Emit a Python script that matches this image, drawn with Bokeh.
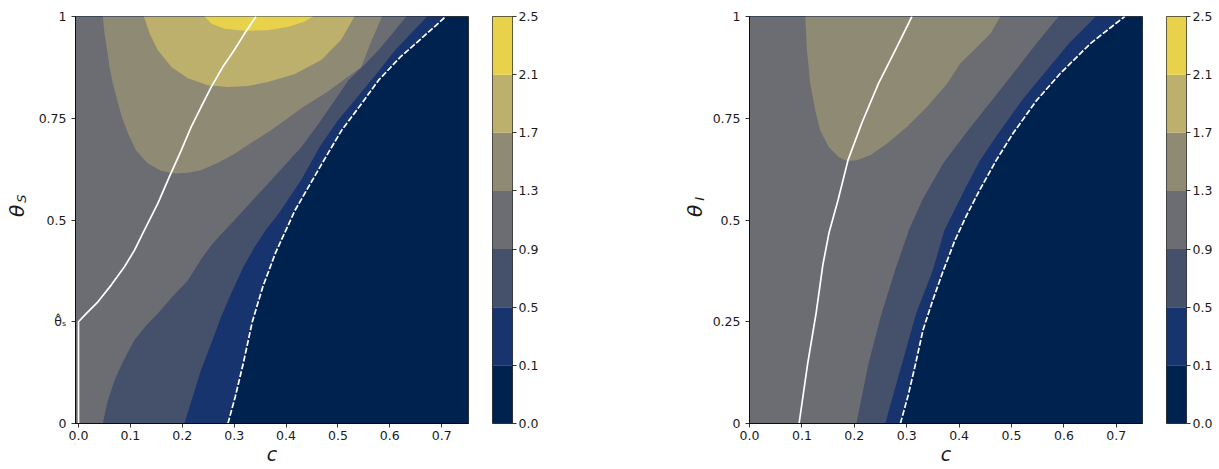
import math
from bokeh.plotting import figure
from bokeh.layouts import row
from bokeh.models import FixedTicker, Range1d, PrintfTickFormatter
from bokeh.core.properties import value
from bokeh.embed import file_html
from bokeh.resources import INLINE

# ---------------- data ----------------
levels = [0.0, 0.1, 0.5, 0.9, 1.3, 1.7, 2.1, 2.5]
level_labels = ["0.0", "0.1", "0.5", "0.9", "1.3", "1.7", "2.1", "2.5"]
band_colors = ["#00224e", "#17346f", "#45506b", "#6c6d72", "#8f8a73", "#bdaf6c", "#e8d24b"]

x_ticks = [0.0, 0.1, 0.2, 0.3, 0.4, 0.5, 0.6, 0.7]
y_ticks = [0, 0.25, 0.5, 0.75, 1]
y_labels_S = ["0", "\u03b8\u0302\u209b", "0.5", "0.75", "1"]
y_labels_I = ["0", "0.25", "0.5", "0.75", "1"]

# left panel (theta_S): contour boundaries, c values / theta values
S_c_01 = [0.288, 0.302, 0.318, 0.335, 0.355, 0.38, 0.417, 0.469, 0.507, 0.548, 0.578, 0.62, 0.66, 0.708]
S_t_01 = [0.0, 0.065, 0.15, 0.25, 0.335, 0.42, 0.523, 0.638, 0.72, 0.79, 0.843, 0.90, 0.945, 1.0]
S_c_05 = [0.204, 0.22, 0.236, 0.256, 0.275, 0.294, 0.318, 0.34, 0.362, 0.386, 0.43, 0.465, 0.5, 0.536, 0.575, 0.61, 0.672]
S_t_05 = [0.0, 0.065, 0.131, 0.197, 0.262, 0.319, 0.385, 0.435, 0.477, 0.516, 0.60, 0.68, 0.745, 0.80, 0.86, 0.917, 1.0]
S_c_09 = [0.047, 0.055, 0.0695, 0.088, 0.108, 0.13, 0.153, 0.18, 0.211, 0.237, 0.256, 0.275, 0.301, 0.333,
          0.366, 0.398, 0.43, 0.462, 0.494, 0.52, 0.55, 0.578, 0.605, 0.632]
S_t_09 = [0.0, 0.05, 0.106, 0.158, 0.205, 0.24, 0.27, 0.31, 0.352, 0.405, 0.438, 0.465, 0.50, 0.545,
          0.59, 0.635, 0.68, 0.735, 0.794, 0.843, 0.88, 0.917, 0.958, 1.0]
S_c_13 = [0.047, 0.050, 0.0553, 0.0597, 0.0663, 0.0746, 0.0836, 0.0952, 0.111, 0.1337, 0.159, 0.185, 0.211,
          0.236, 0.268, 0.301, 0.333, 0.366, 0.398, 0.43, 0.48, 0.545, 0.564, 0.585]
S_t_13 = [1.0, 0.958, 0.917, 0.876, 0.835, 0.794, 0.753, 0.713, 0.671, 0.639, 0.621, 0.614, 0.616,
          0.622, 0.64, 0.663, 0.69, 0.716, 0.745, 0.775, 0.815, 0.876, 0.938, 1.0]
S_c_17 = [0.126, 0.137, 0.153, 0.179, 0.211, 0.249, 0.288, 0.326, 0.365, 0.416, 0.468, 0.506, 0.532]
S_t_17 = [1.0, 0.958, 0.917, 0.876, 0.848, 0.831, 0.827, 0.829, 0.839, 0.858, 0.893, 0.942, 1.0]
S_c_21 = [0.243, 0.256, 0.281, 0.32, 0.365, 0.403, 0.435, 0.452]
S_t_21 = [1.0, 0.983, 0.970, 0.965, 0.966, 0.974, 0.987, 1.0]
S_white_c = [0.0, 0.0, 0.0148, 0.0374, 0.063, 0.0886, 0.108, 0.127, 0.153, 0.175, 0.198, 0.217, 0.236,
             0.256, 0.278, 0.30, 0.32, 0.342]
S_white_t = [0.0, 0.25, 0.27, 0.299, 0.34, 0.385, 0.426, 0.475, 0.541, 0.606, 0.671, 0.728, 0.777,
             0.827, 0.876, 0.917, 0.958, 1.0]

# right panel (theta_I)
I_c_01 = [0.288, 0.303, 0.317, 0.331, 0.349, 0.368, 0.392, 0.413, 0.439, 0.471, 0.503, 0.548, 0.593, 0.651, 0.716]
I_t_01 = [0.0, 0.07, 0.147, 0.229, 0.30, 0.369, 0.45, 0.508, 0.573, 0.647, 0.713, 0.794, 0.86, 0.934, 1.0]
I_c_05 = [0.259, 0.291, 0.318, 0.35, 0.372, 0.41, 0.44, 0.475, 0.52, 0.562, 0.61, 0.661]
I_t_05 = [0.0, 0.147, 0.27, 0.377, 0.475, 0.573, 0.647, 0.713, 0.794, 0.86, 0.934, 1.0]
I_c_09 = [0.204, 0.227, 0.252, 0.278, 0.304, 0.33, 0.37, 0.413, 0.46, 0.503, 0.548, 0.59]
I_t_09 = [0.0, 0.147, 0.27, 0.377, 0.475, 0.55, 0.64, 0.713, 0.79, 0.86, 0.934, 1.0]
I_c_13 = [0.1064, 0.1096, 0.116, 0.1255, 0.135, 0.151, 0.170, 0.186, 0.205, 0.2306, 0.2625, 0.3007,
          0.339, 0.377, 0.4025, 0.428, 0.46, 0.479]
I_t_13 = [1.0, 0.917, 0.835, 0.769, 0.72, 0.68, 0.655, 0.645, 0.647, 0.659, 0.688, 0.729,
          0.778, 0.835, 0.885, 0.917, 0.958, 1.0]
I_white_c = [0.0946, 0.111, 0.127, 0.14, 0.152, 0.169, 0.188, 0.214, 0.246, 0.278, 0.31]
I_white_t = [0.0, 0.147, 0.27, 0.39, 0.47, 0.549, 0.647, 0.737, 0.835, 0.917, 1.0]

# ---------------- styling ----------------
FONT = "DejaVu Sans"
TICK_FS = "12.5px"
TXT = "#1a1a1a"
FW, FH = 393, 407
TOP, BOTTOM = 16, 46
H = TOP + FH + BOTTOM


def style_axis(ax):
    ax.axis_line_color = "black"
    ax.axis_line_width = 0.8
    ax.major_tick_line_color = "black"
    ax.major_tick_line_width = 0.8
    ax.major_tick_out = 4
    ax.major_tick_in = 0
    ax.minor_tick_line_color = None
    ax.major_label_text_font = FONT
    ax.major_label_text_font_size = TICK_FS
    ax.major_label_text_color = TXT


def main_panel(x0, x1, bounds, white, dashed, ylabels, min_left):
    p = figure(frame_width=FW, frame_height=FH, x_range=Range1d(x0, x1), y_range=Range1d(0, 1),
               output_backend="svg", toolbar_location=None,
               min_border_left=min_left, min_border_right=10, min_border_top=TOP, min_border_bottom=BOTTOM)
    p.xgrid.visible = False
    p.ygrid.visible = False
    p.outline_line_color = "black"
    p.outline_line_width = 0.8
    # base band (lowest level) over whole domain
    p.quad(left=[x0], right=[x1], bottom=[levels[0]], top=[1.0], fill_color=band_colors[0], line_color=None)
    for k, (cs, ts) in enumerate(bounds):
        if ts[0] == 0.0:
            xs = [x0] + cs + [x0]
            ys = [0.0] + ts + [1.0]
        else:
            xs = list(cs)
            ys = list(ts)
        p.patch(xs, ys, fill_color=band_colors[k + 1], line_color=None)
    p.line(white[0], white[1], line_color="white", line_width=1.7)
    p.line(dashed[0], dashed[1], line_color="white", line_width=1.7, line_dash="6 2")

    style_axis(p.xaxis[0])
    style_axis(p.yaxis[0])
    p.xaxis.ticker = FixedTicker(ticks=x_ticks)
    p.xaxis.formatter = PrintfTickFormatter(format="%.1f")
    p.xaxis.major_label_standoff = 3
    p.xaxis.axis_label = "c"
    p.xaxis.axis_label_text_font = FONT
    p.xaxis.axis_label_text_font_style = "italic"
    p.xaxis.axis_label_text_font_size = "19px"
    p.xaxis.axis_label_text_color = TXT
    p.xaxis.axis_label_standoff = 0
    p.yaxis.ticker = FixedTicker(ticks=y_ticks)
    p.yaxis.major_label_overrides = {t: l for t, l in zip(y_ticks, ylabels)}
    p.yaxis.major_label_standoff = 5
    return p


def label_fig(width, x_main, x_sub, sub):
    f = figure(width=width, height=H, x_range=Range1d(0, width), y_range=Range1d(0, H),
               output_backend="svg", toolbar_location=None, x_axis_location=None, y_axis_location=None,
               min_border=0, outline_line_color=None)
    f.xgrid.visible = False
    f.ygrid.visible = False
    f.text(x=[x_main], y=[H - 224], text=["\u03b8"], angle=math.pi / 2, text_font=value(FONT),
           text_font_style="italic", text_font_size="20px", text_align="center",
           text_baseline="middle", text_color=TXT)
    f.text(x=[x_sub], y=[H - 210], text=[sub], angle=math.pi / 2, text_font=value(FONT),
           text_font_style="italic", text_font_size="13px", text_align="center",
           text_baseline="middle", text_color=TXT)
    return f


def colorbar(min_right):
    n = len(band_colors)
    cb = figure(frame_width=20, frame_height=FH, x_range=Range1d(0, 1), y_range=Range1d(0, n),
                output_backend="svg", toolbar_location=None, x_axis_location=None, y_axis_location="right",
                min_border_left=14, min_border_right=min_right, min_border_top=TOP, min_border_bottom=BOTTOM)
    cb.xgrid.visible = False
    cb.ygrid.visible = False
    cb.outline_line_color = "black"
    cb.outline_line_width = 0.8
    cb.quad(left=0, right=1, bottom=list(range(n)), top=list(range(1, n + 1)),
            fill_color=band_colors, line_color=None)
    ax = cb.yaxis[0]
    style_axis(ax)
    ax.axis_line_color = None
    ax.ticker = FixedTicker(ticks=list(range(n + 1)))
    ax.major_label_overrides = {i: level_labels[i] for i in range(n + 1)}
    ax.major_label_standoff = 2
    return cb


S_bounds = [(S_c_01, S_t_01), (S_c_05, S_t_05), (S_c_09, S_t_09),
            (S_c_13, S_t_13), (S_c_17, S_t_17), (S_c_21, S_t_21)]
I_bounds = [(I_c_01, I_t_01), (I_c_05, I_t_05), (I_c_09, I_t_09), (I_c_13, I_t_13)]

L1 = label_fig(30, 16, 21, "S")
pA = main_panel(-0.0058, 0.7517, S_bounds, (S_white_c, S_white_t), (S_c_01, S_t_01), y_labels_S, 45)
cbA = colorbar(155)
L2 = label_fig(42, 27, 32, "I")
pC = main_panel(0.0, 0.75, I_bounds, (I_white_c, I_white_t), (I_c_01, I_t_01), y_labels_I, 40)
cbD = colorbar(25)

layout = row(L1, pA, cbA, L2, pC, cbD)
open("out.html", "w").write(file_html(layout, INLINE))
